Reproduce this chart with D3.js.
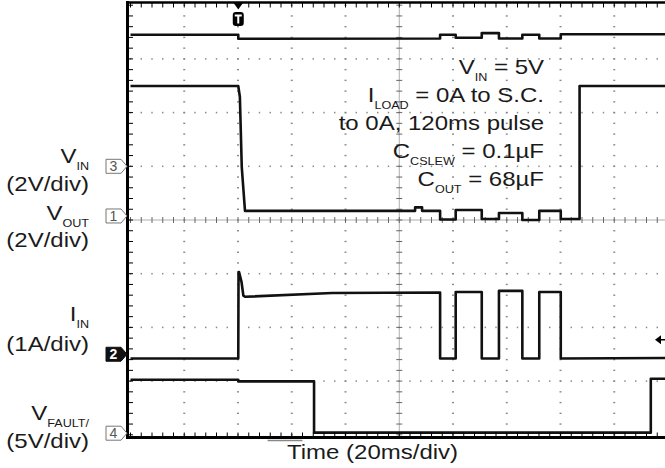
<!DOCTYPE html>
<html>
<head>
<meta charset="utf-8">
<script src="https://cdn.jsdelivr.net/npm/d3@7"></script>
<style>
  body { margin: 0; background: #fff; }
  svg { display: block; font-family: "Liberation Sans", Arial, sans-serif; }
</style>
</head>
<body>
<div id="chart"></div>
<script>
// Scope settings: 20ms/div over 10 divisions, 8 vertical divisions
const timeMajor = d3.range(0, 201, 20);
const timeMinor = d3.range(0, 200.01, 4);
const divMajor = d3.range(-4, 4.01, 1);
const divMinor = d3.range(-4, 4.01, 0.2);
const trigTime = 40.1;     // ms
const trigLevel = 0.27;    // A on channel 2

// channel ground position (div) and units per division
const chNames = ["3", "1", "2", "4"];
const chOffsets = [1.0, 0.075, -2.5, -3.97];
const chPerDiv = [2, 2, 1, 5];

// VIN, channel 3 (V)
const vinTime = [0, 40.1, 40.1, 115.2, 115.2, 121.0, 121.0, 130.7, 130.7, 137.1, 137.1, 145.8, 145.8, 152.1, 152.1, 160.1, 160.1, 200];
const vinVolts = [4.9, 4.9, 4.75, 4.76, 4.9, 4.9, 4.79, 4.79, 4.96, 4.96, 4.76, 4.76, 4.9, 4.9, 4.76, 4.76, 4.92, 4.92];

// VOUT, channel 1 (V)
const voutTime = [0, 40.1, 40.7, 41.4, 42.6, 105.9, 105.9, 108.5, 108.5, 115.2, 115.2, 121.0, 121.0, 130.7, 130.7, 137.1, 137.1, 145.8, 145.8, 152.1, 152.1, 160.1, 160.1, 167.1, 167.1, 200];
const voutVolts = [4.84, 4.84, 4.43, 1.82, 0.19, 0.19, 0.32, 0.32, 0.19, 0.19, -0.13, -0.13, 0.22, 0.22, -0.11, -0.11, 0.11, 0.11, -0.15, -0.15, 0.19, 0.19, -0.11, -0.11, 4.84, 4.84];

// IIN, channel 2 (A)
const iinTime = [0, 40.1, 40.2, 40.4, 41.3, 42.0, 42.7, 75, 115.2, 115.2, 121.0, 121.0, 130.7, 130.7, 137.1, 137.1, 145.8, 145.8, 152.1, 152.1, 160.1, 160.1, 200];
const iinAmps = [-0.08, -0.08, 1.53, 1.53, 1.35, 1.09, 1.07, 1.14, 1.15, -0.08, -0.08, 1.16, 1.16, -0.08, -0.08, 1.18, 1.18, -0.08, -0.08, 1.16, 1.16, -0.08, -0.07];

// VFAULT, channel 4 (V)
const vfTime = [0, 40.1, 40.1, 68.3, 68.3, 193.6, 193.6, 200];
const vfVolts = [4.98, 4.98, 4.82, 4.82, 0.05, 0.05, 5.07, 5.07];

const width = 665, height = 468;
const svg = d3.select("#chart").append("svg")
    .attr("width", width)
    .attr("height", height);

const x = d3.scaleLinear().domain([0, 200]).range([130.5, 668]);
const y = d3.scaleLinear().domain([-4, 4]).range([434.8, 5.2]);
const frameLeft = x(0) - 3, frameTop = y(4) - 2.7, frameBottom = y(-4) + 2.7;

// dotted graticule
const grid = svg.append("g");
timeMajor.filter(t => t > 0 && t < 200 && t !== 100).forEach(t => {
    grid.selectAll(null).data(divMinor).join("rect")
        .attr("x", x(t) - 1).attr("y", d => y(d) - 0.7)
        .attr("width", 2).attr("height", 1.4).attr("fill", "#8a8a8a");
});
divMajor.filter(d => d > -4 && d < 4 && d !== 0).forEach(d => {
    grid.selectAll(null).data(timeMinor).join("rect")
        .attr("x", t => x(t) - 0.7).attr("y", y(d) - 0.8)
        .attr("width", 1.4).attr("height", 1.6).attr("fill", "#8a8a8a");
});

// centre axes with minor ticks
grid.append("line").attr("x1", frameLeft).attr("x2", width).attr("y1", y(0)).attr("y2", y(0))
    .attr("stroke", "#999").attr("stroke-width", 0.8);
grid.append("line").attr("x1", x(100)).attr("x2", x(100)).attr("y1", frameTop).attr("y2", frameBottom)
    .attr("stroke", "#999").attr("stroke-width", 0.8);
grid.selectAll(null).data(timeMinor).join("line")
    .attr("x1", d => x(d)).attr("x2", d => x(d))
    .attr("y1", y(0) - 3).attr("y2", y(0) + 3)
    .attr("stroke", "#666").attr("stroke-width", 1);
grid.selectAll(null).data(divMinor).join("line")
    .attr("x1", x(100) - 3).attr("x2", x(100) + 3)
    .attr("y1", d => y(d)).attr("y2", d => y(d))
    .attr("stroke", "#666").attr("stroke-width", 1);

// traces
const traces = [
    [vinTime, vinVolts, 0],
    [voutTime, voutVolts, 1],
    [iinTime, iinAmps, 2],
    [vfTime, vfVolts, 3]
];
traces.forEach(([ts, vs, ch]) => {
    const pts = ts.map((t, i) => [t, vs[i]]);
    const line = d3.line()
        .x(d => x(d[0]))
        .y(d => y(chOffsets[ch] + d[1] / chPerDiv[ch]));
    svg.append("path")
        .attr("d", line(pts))
        .attr("fill", "none")
        .attr("stroke", "#111")
        .attr("stroke-width", 2.6)
        .attr("stroke-linejoin", "round");
});

// frame: left, top and bottom edges with inner ticks
const frame = svg.append("g").attr("stroke", "#000");
frame.append("line").attr("x1", frameLeft).attr("x2", frameLeft).attr("y1", frameTop - 1.5).attr("y2", frameBottom + 1.5).attr("stroke-width", 3);
frame.append("line").attr("x1", frameLeft).attr("x2", width).attr("y1", frameTop).attr("y2", frameTop).attr("stroke-width", 2.6);
frame.append("line").attr("x1", frameLeft).attr("x2", width).attr("y1", frameBottom).attr("y2", frameBottom).attr("stroke-width", 3);
frame.selectAll(null).data(divMinor).join("line")
    .attr("x1", frameLeft).attr("x2", frameLeft + 5.5)
    .attr("y1", d => y(d)).attr("y2", d => y(d)).attr("stroke-width", 1);
frame.selectAll(null).data(timeMinor).join("line")
    .attr("x1", d => x(d)).attr("x2", d => x(d))
    .attr("y1", frameTop).attr("y2", frameTop + 5).attr("stroke-width", 1);
frame.selectAll(null).data(timeMinor).join("line")
    .attr("x1", d => x(d)).attr("x2", d => x(d))
    .attr("y1", frameBottom - 5).attr("y2", frameBottom).attr("stroke-width", 1);
svg.append("line").attr("x1", x(51)).attr("x2", x(64))
    .attr("y1", frameBottom + 3).attr("y2", frameBottom + 3)
    .attr("stroke", "#888").attr("stroke-width", 1.5);

// channel ground markers
chNames.forEach((name, i) => {
    const cy = y(chOffsets[i]);
    const x0 = frameLeft - 21.5;
    const filled = name === "2";
    svg.append("path")
        .attr("d", `M${x0},${cy - 7}H${x0 + 15}L${x0 + 21},${cy}L${x0 + 15},${cy + 7}H${x0}Z`)
        .attr("fill", filled ? "#111" : "#fff")
        .attr("stroke", filled ? "#111" : "#777")
        .attr("stroke-width", 1);
    svg.append("text")
        .attr("x", x0 + 7.5).attr("y", cy + 5)
        .attr("text-anchor", "middle")
        .attr("font-size", 14)
        .attr("font-weight", filled ? "bold" : "normal")
        .attr("fill", filled ? "#fff" : "#555")
        .text(name);
});

// trigger position marker
const tx = x(trigTime);
svg.append("path").attr("d", `M${tx - 5},${frameTop}L${tx + 5},${frameTop}L${tx},${frameTop + 7}Z`).attr("fill", "#000");
svg.append("rect").attr("x", tx - 5.5).attr("y", 12).attr("width", 11).attr("height", 14)
    .attr("rx", 3).attr("fill", "#000");
svg.append("path").attr("d", `M${tx - 3.5},${14.5}H${tx + 3.5}V${16.5}H${tx + 1}V${23.5}H${tx - 1}V${16.5}H${tx - 3.5}Z`)
    .attr("fill", "#fff");

// trigger level arrow
const ty = y(chOffsets[2] + trigLevel / chPerDiv[2]);
svg.append("path").attr("d", `M${width - 10},${ty}L${width - 4},${ty - 4.5}L${width - 4},${ty + 4.5}Z`).attr("fill", "#000");
svg.append("line").attr("x1", width - 5).attr("x2", width).attr("y1", ty).attr("y2", ty)
    .attr("stroke", "#000").attr("stroke-width", 1.5);

// text with subscripts, horizontally widened like the original artwork
function label(px, py, parts, anchor) {
    const t = svg.append("text")
        .attr("transform", `translate(${px},${py}) scale(1.2,1)`)
        .attr("text-anchor", anchor)
        .attr("font-size", 20)
        .attr("fill", "#1a1a1a");
    let down = false;
    parts.forEach(([s, sub]) => {
        const ts = t.append("tspan").text(s);
        if (sub) { ts.attr("font-size", 10.5).attr("dy", 6.5); down = true; }
        else if (down) { ts.attr("dy", -6.5); down = false; }
    });
}

// channel labels
label(89, 163, [["V"], ["IN", 1]], "end");
label(89, 191, [["(2V/div)"]], "end");
label(89, 220, [["V"], ["OUT", 1]], "end");
label(89, 247, [["(2V/div)"]], "end");
label(89, 321, [["I"], ["IN", 1]], "end");
label(89, 351, [["(1A/div)"]], "end");
label(89, 420, [["V"], ["FAULT/", 1]], "end");
label(89, 448, [["(5V/div)"]], "end");

// test conditions
label(544, 74, [["V"], ["IN", 1], [" = 5V"]], "end");
label(544, 102, [["I"], ["LOAD", 1], [" = 0A to S.C."]], "end");
label(544, 130, [["to 0A, 120ms pulse"]], "end");
label(544, 158, [["C"], ["CSLEW", 1], [" = 0.1\u00b5F"]], "end");
label(544, 186, [["C"], ["OUT", 1], [" = 68\u00b5F"]], "end");

// time base
label(287, 459, [["Time (20ms/div)"]], "start");
</script>
</body>
</html>
